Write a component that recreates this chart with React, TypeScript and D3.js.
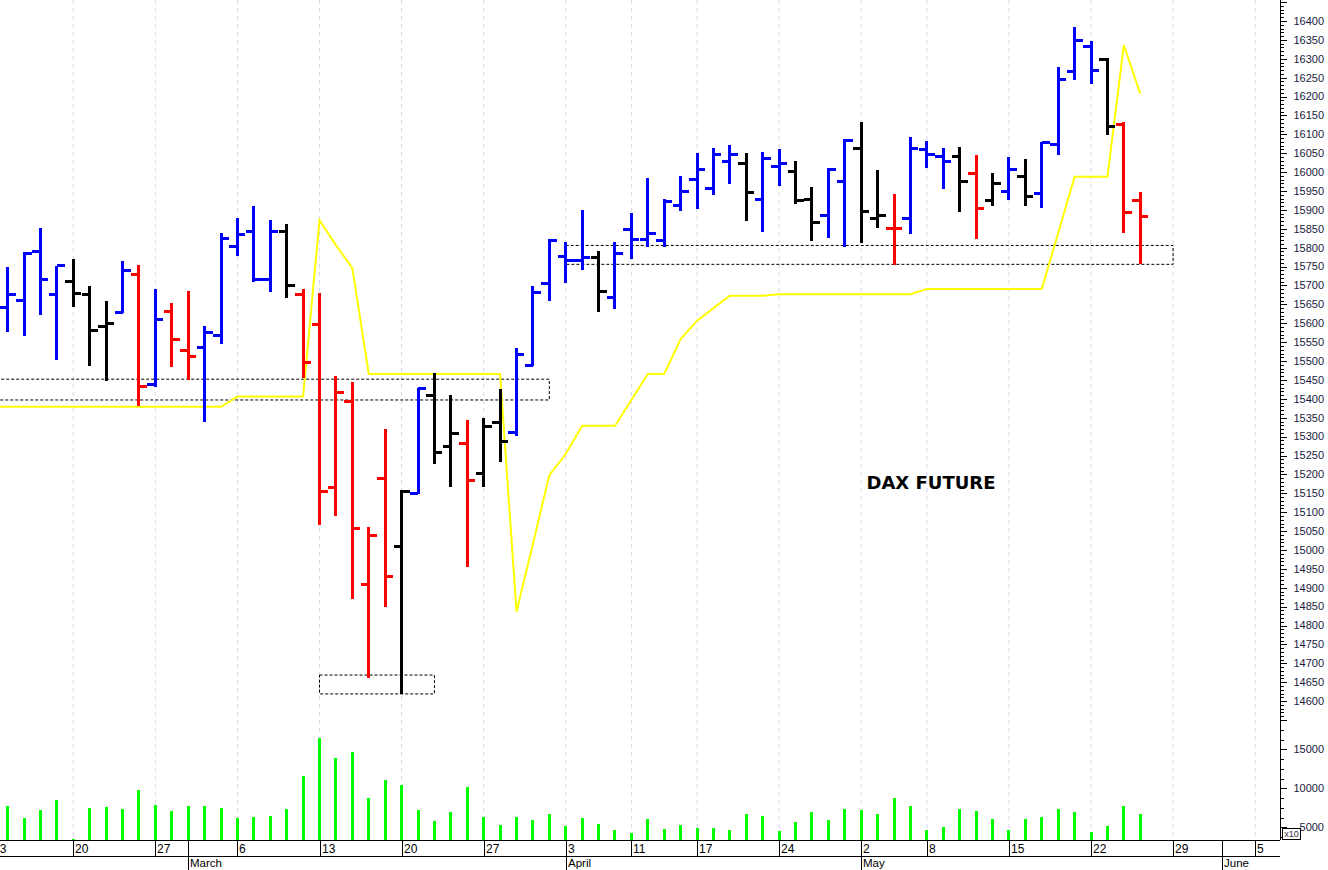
import React from 'react';
import * as d3 from 'd3';

// trading days shown (first one is only partly visible at the left edge)
const days = [
  '2023-02-13', '2023-02-14', '2023-02-15', '2023-02-16', '2023-02-17', '2023-02-20', '2023-02-21', '2023-02-22',
  '2023-02-23', '2023-02-24', '2023-02-27', '2023-02-28',
  '2023-03-01', '2023-03-02', '2023-03-03', '2023-03-06', '2023-03-07', '2023-03-08', '2023-03-09', '2023-03-10',
  '2023-03-13', '2023-03-14', '2023-03-15', '2023-03-16', '2023-03-17', '2023-03-20', '2023-03-21', '2023-03-22',
  '2023-03-23', '2023-03-24', '2023-03-27', '2023-03-28', '2023-03-29', '2023-03-30', '2023-03-31',
  '2023-04-03', '2023-04-04', '2023-04-05', '2023-04-06', '2023-04-11', '2023-04-12', '2023-04-13', '2023-04-14',
  '2023-04-17', '2023-04-18', '2023-04-19', '2023-04-20', '2023-04-21', '2023-04-24', '2023-04-25', '2023-04-26',
  '2023-04-27', '2023-04-28',
  '2023-05-02', '2023-05-03', '2023-05-04', '2023-05-05', '2023-05-08', '2023-05-09', '2023-05-10', '2023-05-11',
  '2023-05-12', '2023-05-15', '2023-05-16', '2023-05-17', '2023-05-18', '2023-05-19', '2023-05-22', '2023-05-23',
  '2023-05-24', '2023-05-25',
];
const futureDays = ['2023-05-26', '2023-05-29', '2023-05-30', '2023-05-31', '2023-06-01', '2023-06-02', '2023-06-05', '2023-06-06'];

const open = [
  null, 15641, 15659, 15789, 15675, 15710, 15675, 15591, 15628, 15730, 15439, 15630,
  15527, 15536, 15567, 15804, 15842, 15717, 15842, 15675, 15598, 15165, 15394, 14909, 15190, 15010, 15150, 15410,
  15273, 15282, 15203, 15338, 15310, 15489, 15704,
  15778, 15767, 15775, 15669, 15849, 15823, 15818, 15911, 15981, 15957, 16028, 16023, 15928, 16014, 16003, 15928,
  15886, 15976,
  16063, 15876, 15851, 15878, 16059, 16041, 16041, 15997, 15926, 15950, 15988, 15944, 16072, 16266, 16332, 16299,
  16127, 15926,
];
const high = [
  null, 15750, 15788, 15853, 15752, 15769, 15699, 15660, 15766, 15753, 15691, 15653,
  15685, 15593, 15840, 15879, 15910, 15873, 15864, 15692, 15679, 15460, 15444, 15060, 15320, 15159, 15430, 15469,
  15410, 15344, 15348, 15425, 15535, 15699, 15822,
  15815, 15900, 15792, 15816, 15893, 15984, 15928, 15991, 16050, 16063, 16072, 16050, 16052, 16060, 16030, 15961,
  16010, 16087,
  16133, 16006, 15942, 16094, 16083, 16063, 16067, 16045, 15998, 16041, 16034, 16079, 16279, 16383, 16348, 16301,
  16133, 15948,
];
const low = [
  null, 15576, 15566, 15622, 15504, 15642, 15487, 15447, 15628, 15381, 15432, 15483,
  15450, 15340, 15545, 15778, 15710, 15682, 15666, 15454, 15066, 15090, 14869, 14660, 14850, 14620, 15147, 15227,
  15166, 14956, 15167, 15232, 15301, 15488, 15659,
  15707, 15741, 15631, 15637, 15769, 15801, 15803, 15898, 15902, 15939, 15968, 15871, 15841, 15964, 15916, 15819,
  15827, 15801,
  15813, 15851, 15754, 15836, 16010, 15955, 15894, 15822, 15911, 15926, 15910, 15906, 16045, 16244, 16233, 16098,
  15838, 15757,
];
const close = [
  null, 15675, 15785, 15717, 15752, 15679, 15582, 15600, 15741, 15432, 15609, 15558,
  15513, 15576, 15825, 15834, 15717, 15842, 15699, 15497, 15156, 15417, 15057, 15039, 14929, 15156, 15428, 15258,
  15307, 15185, 15328, 15288, 15518, 15681, 15820,
  15767, 15775, 15685, 15785, 15822, 15838, 15922, 15950, 16008, 16047, 16047, 15946, 16037, 16023, 15926, 15867,
  16008, 16085,
  15895, 15886, 15851, 16063, 16048, 16028, 15976, 15904, 15970, 16008, 15935, 16079, 16246, 16348, 16270, 16120,
  15893, 15882,
];
// bar colour state: b = blue, r = red, k = black
const barState = [
  '', 'b', 'b', 'b', 'b', 'k', 'k', 'k', 'b', 'r', 'b', 'r',
  'r', 'b', 'b', 'b', 'b', 'b', 'k', 'r', 'r', 'r', 'r', 'r', 'r', 'k', 'b', 'k',
  'k', 'r', 'k', 'k', 'b', 'b', 'b',
  'b', 'b', 'k', 'b', 'b', 'b', 'b', 'b', 'b', 'b', 'b', 'k', 'b', 'b', 'k', 'k',
  'b', 'b',
  'k', 'k', 'r', 'b', 'b', 'b', 'k', 'r', 'k', 'b', 'k', 'b', 'b', 'b', 'b', 'k',
  'r', 'r',
];
// volume (x10)
const volume = [
  null, 7700, 6200, 7180, 8550, 3450, 7530, 7650, 7400, 9740, 7910, 7050,
  7780, 7730, 7530, 6150, 6280, 6500, 7350, 11540, 16450, 13940, 14615, 8720, 11115, 10385, 7270, 5770,
  6920, 10170, 6280, 5260, 6320, 5900, 6670,
  5130, 6150, 5385, 4700, 4320, 6060, 4745, 5255, 4915, 4870, 4700, 6670, 6500, 4490, 5640, 6920,
  5940, 7400,
  7270, 6760, 8720, 7730, 4615, 5000, 7400, 7050, 6030, 4700, 6030, 6280, 7310, 6920, 4400, 5130,
  7730, 6670,
];
// yellow stop line
const stopLine = [
  15379, 15379, 15379, 15379, 15379, 15379, 15379, 15379, 15379, 15379, 15379, 15379,
  15379, 15379, 15379, 15406, 15406, 15406, 15406, 15406, 15873, 15807, 15746, 15466, 15466, 15466, 15466, 15466,
  15466, 15466, 15466, 15466, 14837, 15016, 15198,
  15254, 15329, 15329, 15329, 15397, 15466, 15466, 15558, 15607, 15640, 15673, 15673, 15673, 15677, 15677, 15677,
  15677, 15677,
  15677, 15677, 15677, 15677, 15691, 15691, 15691, 15691, 15691, 15691, 15691, 15691, 15839, 15988, 15988, 15988,
  16336, 16207,
];
// dotted support / resistance boxes
const zones = [
  { from: '2023-02-13', to: '2023-03-31', lo: 15397, hi: 15452 },
  { from: '2023-03-13', to: '2023-03-22', lo: 14619, hi: 14669 },
  { from: '2023-04-03', to: '2023-05-29', lo: 15756, hi: 15806 },
];
const monthNames = ['January', 'February', 'March', 'April', 'May', 'June', 'July'];

const W = 1328;
const H = 870;
const AXIS_X = 1280;
const FONT = '"Liberation Sans", Arial, sans-serif';
const COLORS: Record<string, string> = { b: '#0000ff', r: '#ff0000', k: '#000000' };

const allDays = [...days, ...futureDays];
const parse = (s: string) => new Date(s + 'T00:00:00Z');

export default function App() {
  const x = d3.scaleLinear().domain([0, allDays.length - 1]).range([-8.8, 1271.6]);
  const y = d3.scaleLinear().domain([14550, 16455.6]).range([720, 0]);
  const yVol = d3.scaleLinear().domain([3370, 18790]).range([840, 720]);

  const idx = (s: string) => allDays.indexOf(s);

  const weekStarts: number[] = [];
  const monthStarts: number[] = [];
  allDays.forEach((s, i) => {
    const d = parse(s);
    if (i === 0) {
      weekStarts.push(i);
      return;
    }
    const p = parse(allDays[i - 1]);
    const gap = (d.getTime() - p.getTime()) / 86400000;
    if (d.getUTCDay() < p.getUTCDay() || gap >= 7) weekStarts.push(i);
    if (d.getUTCMonth() !== p.getUTCMonth()) monthStarts.push(i);
  });

  const line = d3
    .line<number>()
    .x((_, i) => x(i))
    .y((v) => y(v));

  const priceTicks = d3.range(14550, 16451, 10);
  const volTicks = d3.range(3750, 18751, 1250);

  return (
    <svg width={W} height={H} style={{ position: 'absolute', left: 0, top: 0, background: '#fff' }}>
      <rect x={0} y={0} width={W} height={H} fill="#ffffff" />

      {/* weekly grid */}
      {weekStarts.map((i) => (
        <line key={'g' + i} x1={x(i)} x2={x(i)} y1={0} y2={840} stroke="#d4d4ee" strokeDasharray="4,4" strokeWidth={1} />
      ))}

      {/* zones */}
      {zones.map((z, k) => (
        <rect
          key={'z' + k}
          x={x(idx(z.from))}
          y={y(z.hi)}
          width={x(idx(z.to)) - x(idx(z.from))}
          height={y(z.lo) - y(z.hi)}
          fill="none"
          stroke="#000"
          strokeWidth={1}
          strokeDasharray="3,2"
        />
      ))}

      {/* stop line */}
      <path d={line(stopLine) || ''} fill="none" stroke="#ffff00" strokeWidth={2} />

      {/* OHLC bars */}
      <g shapeRendering="crispEdges">
        {days.map((s, i) => {
          if (open[i] == null) return null;
          const c = COLORS[barState[i]];
          const cx = x(i);
          return (
            <g key={'b' + i} stroke={c} strokeWidth={3}>
              <line x1={cx} x2={cx} y1={y(high[i] as number)} y2={y(low[i] as number)} />
              <line x1={cx - 8} x2={cx} y1={y(open[i] as number)} y2={y(open[i] as number)} />
              <line x1={cx} x2={cx + 8} y1={y(close[i] as number)} y2={y(close[i] as number)} />
            </g>
          );
        })}
      </g>

      {/* volume */}
      <g shapeRendering="crispEdges">
        {days.map((s, i) =>
          volume[i] == null ? null : (
            <line key={'v' + i} x1={x(i)} x2={x(i)} y1={840} y2={yVol(volume[i] as number)} stroke="#00ff00" strokeWidth={3} />
          )
        )}
      </g>

      <text x={931} y={489} textAnchor="middle" fontFamily='"DejaVu Sans", Verdana, sans-serif' fontWeight="bold" fontSize={18} fill="#000">
        DAX FUTURE
      </text>

      {/* right axis */}
      <g shapeRendering="crispEdges">
        <line x1={AXIS_X + 0.5} x2={AXIS_X + 0.5} y1={0} y2={840} stroke="#000" />
        {priceTicks.map((t) => (
          <line key={'pt' + t} x1={AXIS_X} x2={AXIS_X + (t % 50 === 0 ? 7 : 4)} y1={Math.round(y(t)) + 0.5} y2={Math.round(y(t)) + 0.5} stroke="#000" />
        ))}
        {volTicks.map((t) => (
          <line key={'vt' + t} x1={AXIS_X} x2={AXIS_X + (t % 5000 === 0 ? 7 : 4)} y1={Math.round(yVol(t)) + 0.5} y2={Math.round(yVol(t)) + 0.5} stroke="#000" />
        ))}
      </g>
      {priceTicks
        .filter((t) => t % 50 === 0 && t >= 14600 && t <= 16400)
        .map((t) => (
          <text key={'pl' + t} x={1324} y={y(t)} dy="0.35em" textAnchor="end" fontFamily={FONT} fontSize={11} fill="#1a1a40">
            {t}
          </text>
        ))}
      {volTicks
        .filter((t) => t % 5000 === 0)
        .map((t) => (
          <text key={'vl' + t} x={1324} y={yVol(t)} dy="0.35em" textAnchor="end" fontFamily={FONT} fontSize={11} fill="#1a1a40">
            {t}
          </text>
        ))}
      <rect x={1282.5} y={828.5} width={18} height={11} fill="#fff" stroke="#000" shapeRendering="crispEdges" />
      <text x={1291.5} y={837} textAnchor="middle" fontFamily={FONT} fontSize={9} fill="#334">
        x10
      </text>

      {/* date axis */}
      <g shapeRendering="crispEdges" stroke="#000">
        <line x1={0} x2={AXIS_X} y1={840.5} y2={840.5} />
        <line x1={0} x2={AXIS_X} y1={856.5} y2={856.5} />
        {weekStarts.map((i) => (
          <line key={'ws' + i} x1={Math.round(x(i)) + 0.5} x2={Math.round(x(i)) + 0.5} y1={840} y2={856} />
        ))}
        {monthStarts.map((i) => (
          <line key={'ms' + i} x1={Math.round(x(i)) + 0.5} x2={Math.round(x(i)) + 0.5} y1={840} y2={870} />
        ))}
      </g>
      {weekStarts.map((i) => (
        <text key={'wl' + i} x={Math.round(x(i)) + 2} y={853} fontFamily={FONT} fontSize={12} fill="#000">
          {parse(allDays[i]).getUTCDate()}
        </text>
      ))}
      {monthStarts.map((i) => (
        <text key={'ml' + i} x={Math.round(x(i)) + 2} y={866.5} fontFamily={FONT} fontSize={11.5} fill="#000">
          {monthNames[parse(allDays[i]).getUTCMonth()]}
        </text>
      ))}
    </svg>
  );
}
